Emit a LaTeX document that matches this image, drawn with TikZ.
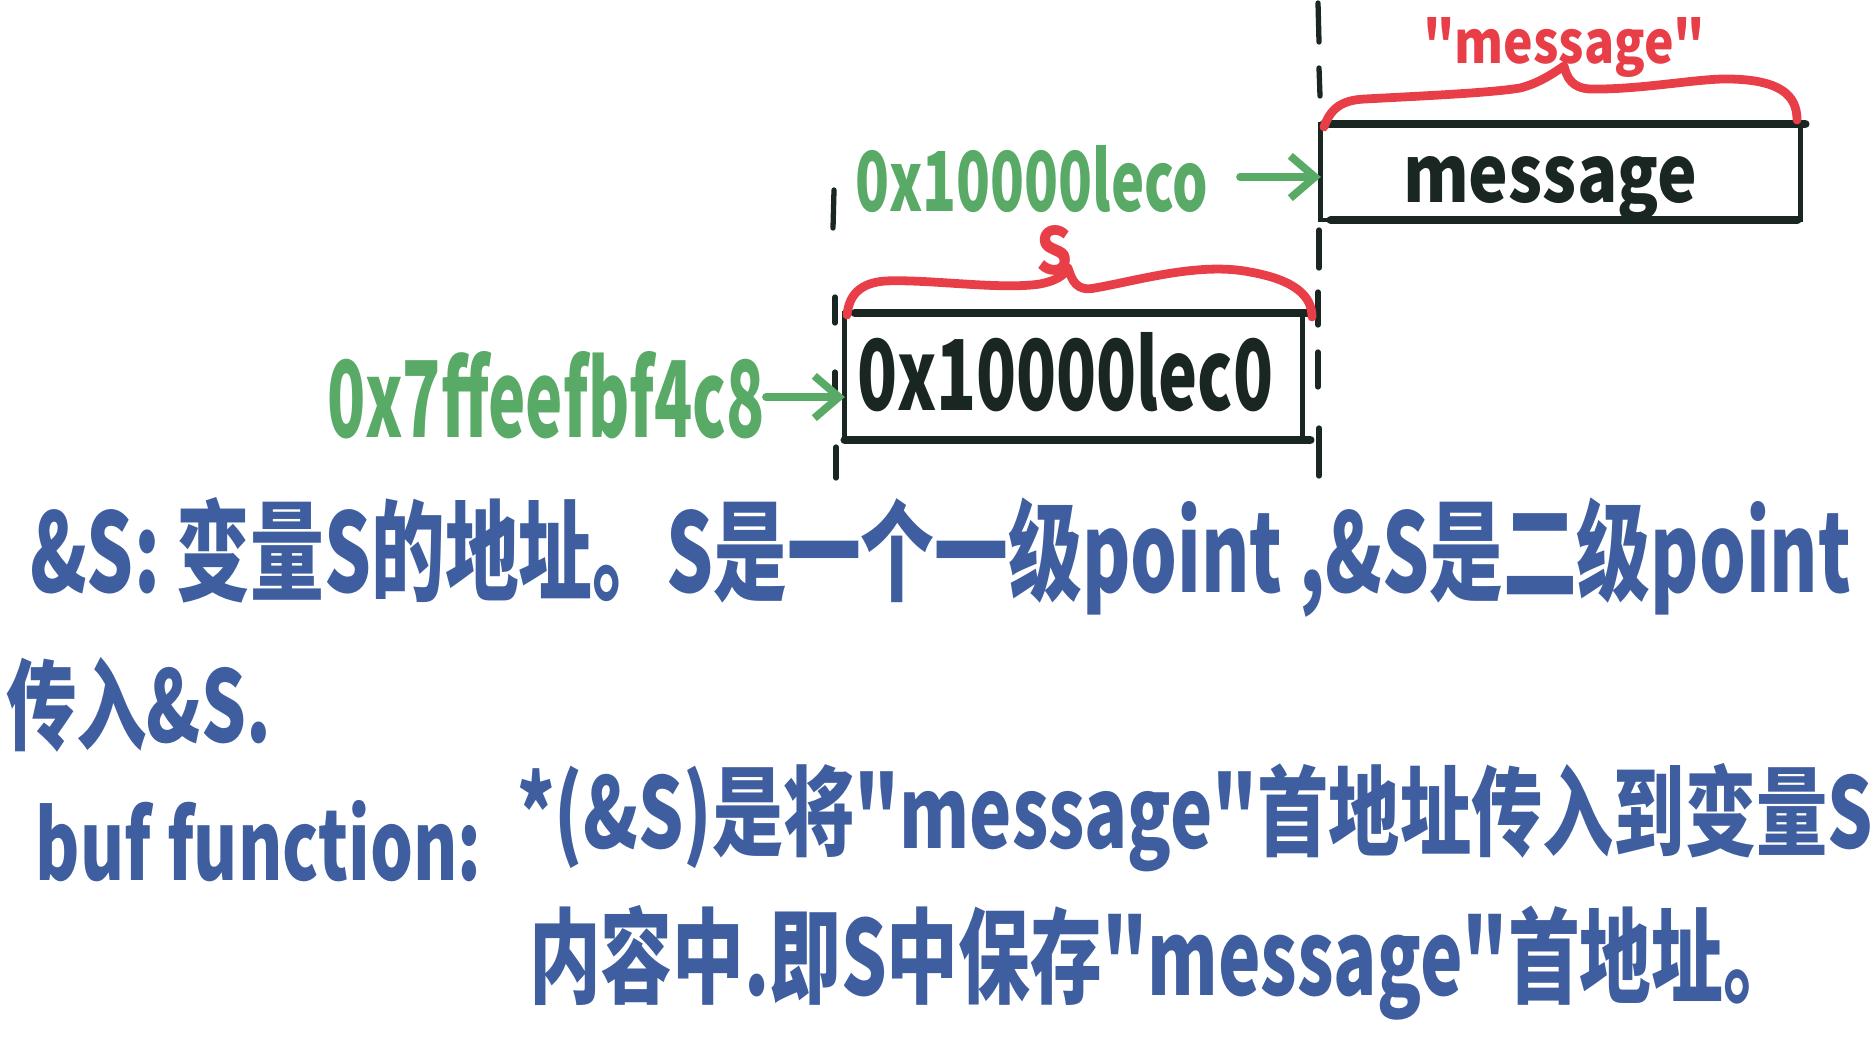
\documentclass[tikz,border=0pt]{standalone}
\usepackage{fontspec}
\newfontfamily\hw{Noto Sans CJK SC}
\usepackage{graphicx}
\usetikzlibrary{arrows.meta}
\definecolor{hwgreen}{RGB}{88,170,102}
\definecolor{hwred}{RGB}{232,62,72}
\definecolor{hwblue}{RGB}{63,94,160}
\definecolor{hwblack}{RGB}{26,38,34}
\newcommand{\fit}[3]{\resizebox{#1}{#2}{#3}}
\begin{document}
\begin{tikzpicture}[x=0.01cm,y=-0.01cm,
  txt/.style={inner sep=0pt, outer sep=0pt, anchor=base west, font=\hw\bfseries},
  membox/.style={draw=hwblack, line width=1.4pt, inner sep=0pt, outer sep=0pt},
  boxline/.style={hwblack, line width=2.5pt, line cap=round},
  guide/.style={hwblack, line width=1.5pt, line cap=round},
  bracestyle/.style={hwred, line width=2.5pt, line cap=round, line join=round},
  garrow/.style={hwgreen, line width=2.2pt, line cap=round, -{Straight Barb[length=7pt,width=12pt,line width=2.2pt]}},
]
\useasboundingbox (0,0) rectangle (1876,1045);

% dashed guide lines
\draw[guide] (834,190) -- (833,228);
\draw[guide] (835,297) -- (835,323);
\draw[guide] (835,372) -- (835,390);
\draw[guide] (836,447) -- (836,478);
\draw[guide] (1318,3) -- (1319,42);
\draw[guide] (1319,68) -- (1320,96);
\draw[guide] (1319,230) -- (1319,268);
\draw[guide] (1318,292) -- (1318,325);
\draw[guide] (1318,352) -- (1318,387);
\draw[guide] (1319,428) -- (1319,476);

% memory boxes
\node[membox, minimum width=4.57cm, minimum height=1.27cm] (box1) at (1073.5,376.5) {};
\node[membox, minimum width=4.79cm, minimum height=0.96cm] (box2) at (1560.5,172) {};
\draw[boxline] ([xshift=0.1cm]box1.north west) -- ([xshift=0.11cm]box1.north east);
\draw[boxline] (box1.south west) -- ([xshift=0.08cm]box1.south east);
\draw[boxline] ([xshift=0.03cm]box2.north west) -- ([xshift=0.05cm]box2.north east);
\draw[boxline] ([xshift=0.1cm]box2.south west) -- ([xshift=-0.03cm]box2.south east);

% box contents
\node[txt, text=hwblack] (t1) at (857,410) {\fit{4.16cm}{0.78cm}{0x10000lec0}};
\node[txt, text=hwblack] (t2) at (1403,202) {\fit{2.94cm}{0.46cm}{message}};

% green addresses
\node[txt, text=hwgreen] (g1) at (855,211) {\fit{3.53cm}{0.66cm}{0x10000leco}};
\node[txt, text=hwgreen] (g2) at (327,437) {\fit{4.37cm}{0.86cm}{0x7ffeefbf4c8}};
\coordinate (a1s) at (1240,177);
\coordinate (a2s) at (766,397);
\draw[garrow] (a1s) -- (a1s -| box2.west);
\draw[garrow] (a2s) -- (a2s -| box1.west);

% red braces and labels
\draw[bracestyle] (847,315) .. controls (849,295) and (860,283) .. (885,281)
  .. controls (930,279) and (1000,290) .. (1040,284)
  .. controls (1055,281) and (1064,276) .. (1068,268)
  .. controls (1072,280) and (1076,292) .. (1095,288)
  .. controls (1140,280) and (1200,262) .. (1250,272)
  .. controls (1295,280) and (1312,296) .. (1312,317);
\draw[bracestyle] (1324,127) .. controls (1330,110) and (1340,100) .. (1365,99)
  .. controls (1420,96) and (1490,93) .. (1520,88)
  .. controls (1540,83) and (1555,72) .. (1564,66)
  .. controls (1567,78) and (1572,88) .. (1590,89)
  .. controls (1640,90) and (1700,78) .. (1730,79)
  .. controls (1780,80) and (1797,95) .. (1797,120);
\node[txt, text=hwred] (r1) at (1036,274) {\fit{0.36cm}{0.49cm}{S}};
\node[txt, text=hwred] (r2) at (1423,63) {\fit{2.82cm}{0.46cm}{"message"}};

% blue notes
\node[txt, text=hwblue] (b1) at (30,592) {\fit{18.2cm}{0.95cm}{\&S: 变量S的地址。S是一个一级point ,\&S是二级point}};
\node[txt, text=hwblue] (b2) at (6,742) {\fit{2.65cm}{0.85cm}{传入\&S.}};
\node[txt, text=hwblue] (b3a) at (36,880) {\fit{4.45cm}{0.80cm}{buf function:}};
\node[txt, text=hwblue] (b3b) at (517,848) {\fit{13.55cm}{0.85cm}{*(\&S)是将"message"首地址传入到变量S}};
\node[txt, text=hwblue] (b4) at (529,995) {\fit{12.65cm}{0.90cm}{内容中.即S中保存"message"首地址。}};
\end{tikzpicture}
\end{document}
